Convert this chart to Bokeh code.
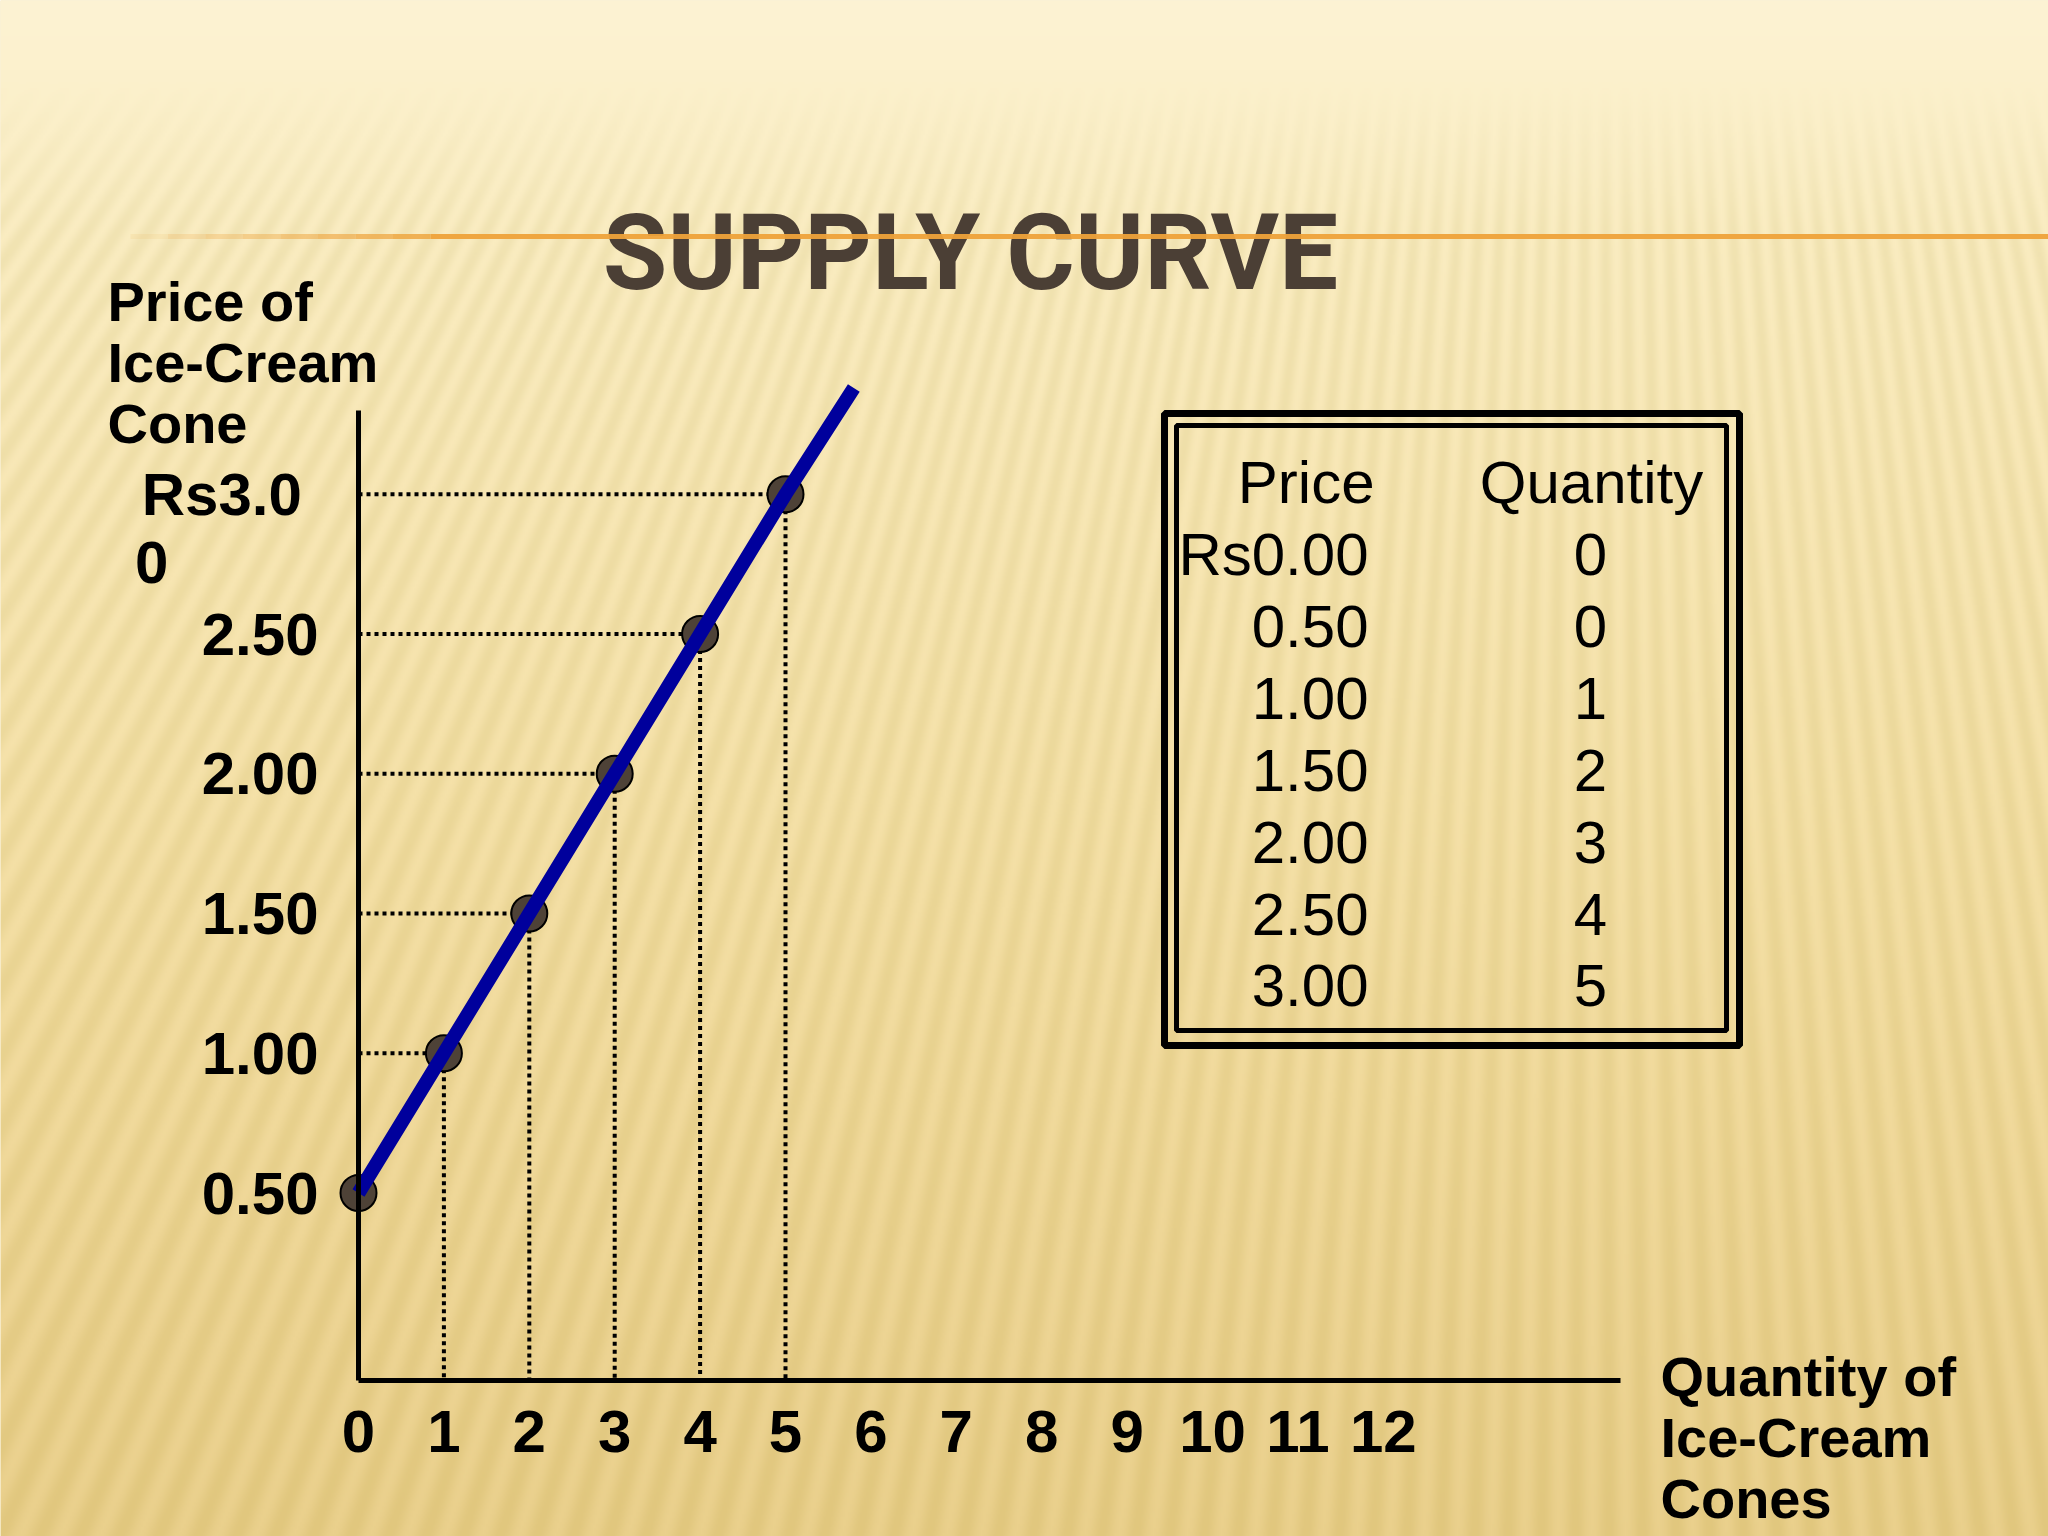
import numpy as np
from bokeh.plotting import figure
from bokeh.models import (Range1d, FixedTicker, Label, BoxAnnotation, LinearAxis)
from bokeh.core.properties import value
from bokeh.embed import file_html
from bokeh.resources import INLINE

# ---------------- data ----------------
quantity = [0, 1, 2, 3, 4, 5]
price = [0.50, 1.00, 1.50, 2.00, 2.50, 3.00]
curve_end_q = 5.8
curve_end_p = 3.38
x_ticks = list(range(13))
x_tick_labels = [str(t) for t in x_ticks]
y_ticks = [0.5, 1.0, 1.5, 2.0, 2.5, 3.0]
y_tick_labels = ["0.50", "1.00", "1.50", "2.00", "2.50", " \nRs3.0 \n0         "]
table_price = [0.00, 0.50, 1.00, 1.50, 2.00, 2.50, 3.00]
table_qty = [0, 0, 1, 2, 3, 4, 5]
title_text = "SUPPLY CURVE"
y_label_text = "Price of\nIce-Cream\nCone"
x_label_text = "Quantity of\nIce-Cream\nCones"

# ---------------- layout (reference pixel geometry) ----------------
W, H = 2048, 1536
X0, SX = 358.0, 85.4      # pixel of q=0, pixels per cone
Y05, SY = 1192.5, 279.5   # pixel of price 0.5, pixels per rupee
BASE_FIX = 0.35           # baseline compensation (em)


def dx(X):
    return (X - X0) / SX


def dy(Y):
    return 0.5 + (Y05 - Y) / SY


def base(Y, fs):
    return dy(Y - BASE_FIX * fs)


p = figure(width=W, height=H,
           x_range=Range1d(dx(0), dx(W)), y_range=Range1d(dy(H), dy(0)),
           output_backend="svg", toolbar_location=None,
           x_axis_type=None, y_axis_type=None,
           min_border=0, min_border_left=0, min_border_bottom=0,
           min_border_top=0, min_border_right=0,
           outline_line_color=None,
           background_fill_color="#F6E4AE", border_fill_color="#F6E4AE")
p.xgrid.visible = False
p.ygrid.visible = False

# ---------------- slide background (gradient with soft rays) ----------------
stops_y = [0, 70, 250, 500, 800, 1100, 1350, 1536]
stops_c = [(253, 243, 212), (252, 241, 205), (250, 236, 192), (248, 231, 181),
           (245, 225, 168), (241, 218, 156), (237, 212, 147), (234, 208, 140)]
rh, rw = 768, 1024
Yc = H - (np.arange(rh) + 0.5) * (H / rh)
Xc = (np.arange(rw) + 0.5) * (W / rw)
XX, YY = np.meshgrid(Xc, Yc)
theta = np.arctan2(XX - 1600.0, YY + 2000.0)
stripe = 0.5 + 0.5 * np.sin(2 * np.pi * theta / 0.0095)
amp = np.clip((YY - 80.0) / 150.0, 0, 1) * 9.0
img = np.empty((rh, rw, 4), dtype=np.uint8)
for k in range(3):
    ch = np.interp(YY, stops_y, [s[k] for s in stops_c]) - amp * stripe * (1.0 if k < 2 else 1.6)
    img[:, :, k] = np.clip(ch, 0, 255).astype(np.uint8)
img[:, :, 3] = 255
p.image_rgba(image=[img.view(dtype=np.uint32).reshape((rh, rw))],
             x=dx(0), y=dy(H), dw=dx(W) - dx(0), dh=dy(0) - dy(H))

# ---------------- axes ----------------
xaxis = LinearAxis(ticker=FixedTicker(ticks=x_ticks),
                   major_label_overrides={t: l for t, l in zip(x_ticks, x_tick_labels)},
                   fixed_location=dy(1380),
                   bounds=(0, dx(1620)),
                   axis_line_width=5, axis_line_color="black",
                   major_tick_line_color=None, minor_tick_line_color=None,
                   major_tick_out=0, major_tick_in=0,
                   major_label_standoff=30,
                   major_label_text_font="Liberation Sans",
                   major_label_text_font_style="bold",
                   major_label_text_font_size="60px",
                   major_label_text_color="black")
p.add_layout(xaxis, "below")

yaxis = LinearAxis(ticker=FixedTicker(ticks=y_ticks),
                   major_label_overrides={t: l for t, l in zip(y_ticks, y_tick_labels)},
                   fixed_location=0,
                   bounds=(dy(1380), dy(410)),
                   axis_line_width=5, axis_line_color="black",
                   major_tick_line_color=None, minor_tick_line_color=None,
                   major_tick_out=0, major_tick_in=0,
                   major_label_standoff=40,
                   major_label_text_font="Liberation Sans",
                   major_label_text_font_style="bold",
                   major_label_text_font_size="60px",
                   major_label_text_line_height=1.015,
                   major_label_text_color="black")
p.add_layout(yaxis, "left")

# ---------------- title with orange rule ----------------
p.add_layout(Label(x=dx(970), y=base(290, 105), text=title_text, text_align="center",
                   text_baseline="alphabetic", text_font="Roboto", text_font_style="bold",
                   text_font_size="105px", text_color="#4B3F35"))
fade_x = np.linspace(130, 430, 9)
for i in range(8):
    p.add_layout(BoxAnnotation(left=dx(fade_x[i]), right=dx(fade_x[i + 1]),
                               top=dy(233.5), bottom=dy(238.5),
                               fill_color="#EEA23A", fill_alpha=0.1 + 0.1 * i, line_color=None))
p.add_layout(BoxAnnotation(left=dx(430), right=dx(W), top=dy(233.5), bottom=dy(238.5),
                           fill_color="#EEA23A", fill_alpha=0.95, line_color=None))

# ---------------- axis titles ----------------
p.add_layout(Label(x=dx(107), y=dy(362), text=y_label_text, text_align="left",
                   text_baseline="middle", text_font="Liberation Sans", text_font_style="bold",
                   text_font_size="56px", text_line_height=0.97, text_color="black"))
p.add_layout(Label(x=dx(1660), y=dy(1437), text=x_label_text, text_align="left",
                   text_baseline="middle", text_font="Liberation Sans", text_font_style="bold",
                   text_font_size="56px", text_line_height=0.97, text_color="black"))

# ---------------- dotted guides ----------------
y_floor = dy(1380)
p.segment(x0=[0] * (len(quantity) - 1), y0=price[1:], x1=quantity[1:], y1=price[1:],
          line_color="black", line_width=4, line_dash="4 4")
p.segment(x0=quantity[1:], y0=price[1:], x1=quantity[1:], y1=[y_floor] * (len(quantity) - 1),
          line_color="black", line_width=4, line_dash="4 4")

# ---------------- points and supply curve ----------------
p.scatter(quantity, price, marker="circle", size=36, fill_color="#4E4237",
          line_color="black", line_width=2)
p.line(quantity + [curve_end_q], price + [curve_end_p], line_color="#00009C", line_width=14)

# ---------------- schedule table ----------------
p.add_layout(BoxAnnotation(left=dx(1164), right=dx(1739), top=dy(413), bottom=dy(1045),
                           fill_color=None, fill_alpha=0, line_color="black",
                           line_alpha=1.0, line_width=7))
p.add_layout(BoxAnnotation(left=dx(1176), right=dx(1726), top=dy(425), bottom=dy(1030),
                           fill_color=None, fill_alpha=0, line_color="black",
                           line_alpha=1.0, line_width=5))

FS_T = 60
row_base, row_step = 575.0, 71.9
price_txt = [("Rs" if i == 0 else "") + "%.2f" % v for i, v in enumerate(table_price)]
qty_txt = [str(v) for v in table_qty]
rows_y = [base(row_base + i * row_step, FS_T) for i in range(len(table_price))]
p.text(x=[dx(1368)] * len(rows_y), y=rows_y, text=price_txt, text_align="right",
       text_baseline="alphabetic", text_font=value("Liberation Sans"),
       text_font_size="%dpx" % FS_T, text_color="black")
p.text(x=[dx(1590)] * len(rows_y), y=rows_y, text=qty_txt, text_align="center",
       text_baseline="alphabetic", text_font=value("Liberation Sans"),
       text_font_size="%dpx" % FS_T, text_color="black")
p.text(x=[dx(1374), dx(1591)], y=[base(row_base - row_step, FS_T)] * 2, text=["Price", "Quantity"],
       text_align=["right", "center"], text_baseline="alphabetic",
       text_font=value("Liberation Sans"), text_font_size="%dpx" % FS_T, text_color="black")

open("out.html", "w").write(file_html(p, INLINE))
